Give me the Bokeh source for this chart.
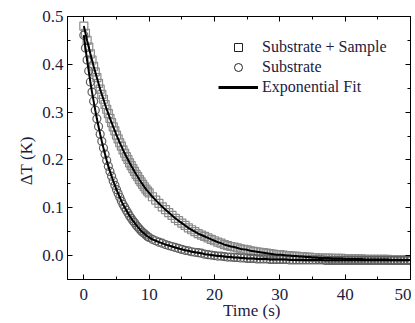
from bokeh.plotting import figure
from bokeh.models import (Range1d, SingleIntervalTicker, LinearAxis, PrintfTickFormatter,
                          Legend, LegendItem, ColumnDataSource, CustomLabelingPolicy)
from bokeh.embed import file_html
from bokeh.resources import INLINE

# ---- data ----
time_s = [
    0, 0.25, 0.5, 0.75, 1, 1.25, 1.5, 1.75, 2, 2.25, 2.5, 2.75, 3, 3.25, 3.5, 3.75,
    4, 4.25, 4.5, 4.75, 5, 5.25, 5.5, 5.75, 6, 6.25, 6.5, 6.75, 7, 7.25, 7.5, 7.75,
    8, 8.25, 8.5, 8.75, 9, 9.25, 9.5, 9.75, 10,
    10.5, 11, 11.5, 12, 12.5, 13, 13.5, 14, 14.5, 15, 15.5, 16, 16.5, 17, 17.5,
    18, 18.5, 19, 19.5, 20, 20.5, 21, 21.5, 22, 22.5, 23, 23.5, 24, 24.5, 25,
    25.5, 26, 26.5, 27, 27.5, 28, 28.5, 29, 29.5, 30, 30.5, 31, 31.5, 32, 32.5,
    33, 33.5, 34, 34.5, 35, 35.5, 36, 36.5, 37, 37.5, 38, 38.5, 39, 39.5, 40,
    40.5, 41, 41.5, 42, 42.5, 43, 43.5, 44, 44.5, 45, 45.5, 46, 46.5, 47, 47.5,
    48, 48.5, 49, 49.5, 50,
]

dT_substrate_sample = [
    0.480, 0.465, 0.450, 0.436, 0.422, 0.409, 0.396, 0.384, 0.372, 0.360, 0.348,
    0.337, 0.327, 0.316, 0.306, 0.297, 0.287, 0.278, 0.269, 0.261, 0.252, 0.244,
    0.236, 0.229, 0.221, 0.214, 0.207, 0.201, 0.194, 0.188, 0.182, 0.176, 0.170,
    0.165, 0.159, 0.154, 0.149, 0.144, 0.139, 0.135, 0.131,
    0.123, 0.116, 0.109, 0.102, 0.096, 0.090, 0.084, 0.078, 0.073, 0.068, 0.063,
    0.058, 0.054, 0.050, 0.046, 0.043, 0.040, 0.037, 0.034, 0.031, 0.028, 0.026,
    0.023, 0.021, 0.019, 0.018, 0.016, 0.014, 0.013, 0.012,
    0.010, 0.009, 0.008, 0.007, 0.006, 0.005, 0.004, 0.003, 0.002, 0.002, 0.001,
    0.000, 0.000, -0.001, -0.001, -0.002, -0.002, -0.003, -0.003, -0.004, -0.004,
    -0.005, -0.005, -0.005, -0.005, -0.006, -0.006, -0.006, -0.006, -0.007,
    -0.007, -0.007, -0.007, -0.007, -0.007, -0.008, -0.008, -0.008, -0.008,
    -0.008, -0.008, -0.008, -0.008, -0.009, -0.009, -0.009, -0.009, -0.009,
    -0.009, -0.009,
]

dT_substrate = [
    0.461, 0.434, 0.409, 0.386, 0.363, 0.342, 0.323, 0.304, 0.286, 0.270, 0.254,
    0.239, 0.225, 0.212, 0.199, 0.187, 0.176, 0.166, 0.156, 0.147, 0.138, 0.130,
    0.122, 0.114, 0.107, 0.101, 0.095, 0.089, 0.083, 0.078, 0.073, 0.069, 0.064,
    0.060, 0.056, 0.052, 0.049, 0.046, 0.043, 0.040, 0.038,
    0.034, 0.031, 0.028, 0.026, 0.023, 0.021, 0.019, 0.017, 0.015, 0.013, 0.011,
    0.010, 0.008, 0.007, 0.006, 0.005, 0.003, 0.002, 0.001, 0.000, -0.001, -0.001,
    -0.002, -0.003, -0.003, -0.004, -0.004, -0.005, -0.005, -0.006,
    -0.006, -0.006, -0.007, -0.007, -0.007, -0.007, -0.008, -0.008, -0.008,
    -0.008, -0.008, -0.008, -0.009, -0.009, -0.009, -0.009, -0.009, -0.009,
    -0.009, -0.009, -0.009, -0.009, -0.009, -0.010, -0.010, -0.010, -0.010,
    -0.010, -0.010, -0.010, -0.010, -0.010, -0.010, -0.010, -0.010, -0.010,
    -0.010, -0.010, -0.010, -0.010, -0.010, -0.010, -0.010, -0.010, -0.010,
    -0.010, -0.010, -0.010, -0.010, -0.010,
]

legend_labels = ["Substrate + Sample", "Substrate", "Exponential Fit"]
x_label = "Time (s)"
y_label = "\u0394T (K)"
x_tick_step = 10
y_tick_step = 0.1

FONT = "Liberation Serif"
TXT = "#1c2040"
PAD = "\u00a0" * 6  # shifts the (off-centre) axis titles as in the reference

p = figure(width=411, height=323, output_backend="svg", toolbar_location=None,
           x_range=Range1d(-2.5, 50), y_range=Range1d(-0.05, 0.5),
           x_axis_type=None, y_axis_type=None,
           min_border_left=67, min_border_right=1, min_border_top=16, min_border_bottom=44)
p.xgrid.visible = False
p.ygrid.visible = False
p.outline_line_color = "black"
p.outline_line_width = 1
p.background_fill_color = "white"
p.border_fill_color = "white"
# an off-screen range used only by the legend's sample glyphs
p.extra_x_ranges = {"legend_only": Range1d(-1000, -999)}

no_labels = CustomLabelingPolicy(code="""
const all = [...indices]
for (const i of all) indices.unset(i)
""")


def make_axis(step, show, standoff, fmt=None, label=None, label_standoff=0):
    ax = LinearAxis(ticker=SingleIntervalTicker(interval=step, num_minor_ticks=2))
    if fmt:
        ax.formatter = PrintfTickFormatter(format=fmt)
    ax.axis_line_color = "black"
    ax.axis_line_width = 1
    ax.major_tick_in = 5
    ax.major_tick_out = 0
    ax.minor_tick_in = 3
    ax.minor_tick_out = 0
    ax.major_tick_line_color = "black"
    ax.minor_tick_line_color = "black"
    ax.major_label_text_font = FONT
    ax.major_label_text_color = TXT
    ax.major_label_standoff = standoff
    if show:
        ax.major_label_text_font_size = "17px"
    else:
        ax.major_label_text_font_size = "0px"
        ax.major_label_policy = no_labels
    if label:
        ax.axis_label = label
        ax.axis_label_text_font = FONT
        ax.axis_label_text_font_size = "17px"
        ax.axis_label_text_font_style = "normal"
        ax.axis_label_text_color = TXT
        ax.axis_label_standoff = label_standoff
    return ax


p.add_layout(make_axis(x_tick_step, True, 9, label=PAD + x_label, label_standoff=-2), "below")
p.add_layout(make_axis(y_tick_step, True, 4, "%.1f", label=y_label + PAD, label_standoff=3), "left")
p.add_layout(make_axis(x_tick_step, False, 0), "above")
p.add_layout(make_axis(y_tick_step, False, 0, "%.1f"), "right")

src_a = ColumnDataSource(dict(t=time_s, v=dT_substrate_sample))
src_b = ColumnDataSource(dict(t=time_s, v=dT_substrate))

# data markers
p.scatter("t", "v", source=src_a, marker="square", size=8,
          line_color="#8a8a8a", fill_color=None, line_width=1.2)
p.scatter("t", "v", source=src_b, marker="circle", size=8,
          line_color="#5e5e5e", fill_color=None, line_width=1.2)
# fits
p.line("t", "v", source=src_a, line_color="black", line_width=2)
p.line("t", "v", source=src_b, line_color="black", line_width=2)

# legend sample glyphs (mapped to the off-screen range, so only the legend shows them)
lg_sq = p.scatter("t", "v", source=src_a, x_range_name="legend_only",
                  marker="square", size=9, line_color="#222222", fill_color=None, line_width=1)
lg_ci = p.scatter("t", "v", source=src_b, x_range_name="legend_only",
                  marker="circle", size=9, line_color="#222222", fill_color=None, line_width=1)
lg_ln = p.line("t", "v", source=src_a, x_range_name="legend_only",
               line_color="black", line_width=3)

legend = Legend(items=[LegendItem(label=legend_labels[0], renderers=[lg_sq]),
                       LegendItem(label=legend_labels[1], renderers=[lg_ci]),
                       LegendItem(label=legend_labels[2], renderers=[lg_ln])],
                location=(151, 182), glyph_width=40, glyph_height=20,
                label_height=20, label_standoff=4, spacing=0, padding=0, margin=0,
                border_line_color=None, background_fill_alpha=0,
                label_text_font=FONT, label_text_font_size="16px",
                label_text_color=TXT)
p.add_layout(legend)

open("out.html", "w").write(file_html(p, INLINE))
